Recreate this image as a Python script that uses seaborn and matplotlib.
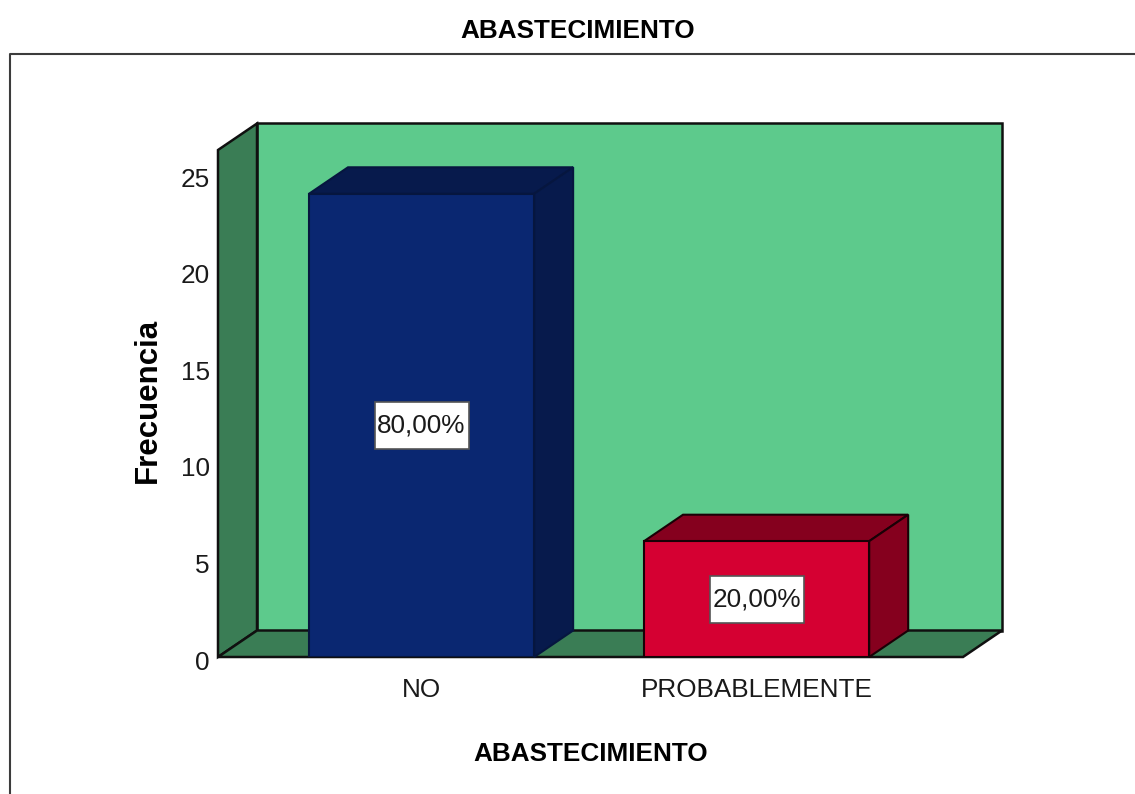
import matplotlib
matplotlib.use("Agg")
import matplotlib.pyplot as plt
import pandas as pd
import seaborn as sns
from matplotlib.lines import Line2D
from matplotlib.patches import Polygon, Rectangle
from matplotlib.transforms import ScaledTranslation

categories = ["NO", "PROBABLEMENTE"]
frecuencia = [24, 6]
porcentajes = ["80,00%", "20,00%"]
y_ticks = [0, 5, 10, 15, 20, 25]

front_colors = ["#0a2771", "#d50032"]
dark_colors = ["#071a4c", "#85001e"]
edge_colors = ["#06163f", "#1a0006"]
wall_color = "#5dca8c"
floor_color = "#3a7d55"

W, H = 1135, 794
font = "Liberation Sans"
size = 18.8
sns.set_theme(style="white")

fig = plt.figure(figsize=(W / 100, H / 100), dpi=100, facecolor="white")
# axes box = front face of the chart, in pixels of the reference
ax = fig.add_axes([218 / W, 1 - 657 / H, (963 - 218) / W, (657 - 150) / H])
ax.patch.set_visible(False)

df = pd.DataFrame({"cat": categories, "n": frecuencia})
sns.barplot(data=df, x="cat", y="n", hue="cat", palette=front_colors, saturation=1,
            width=0.672, legend=False, ax=ax, zorder=3)
ax.set_xlim(-0.6075, 1.616)
ax.set_ylim(0, 507 / 19.3)

# depth of the fake 3d, converted to data units
dx = 39 / 335
dy = 26.5 / 19.3
x0, x1 = ax.get_xlim()
y0, y1 = ax.get_ylim()


def face(pts, fc, ec="#101010", lw=1.8, z=1):
    ax.add_patch(Polygon(pts, closed=True, facecolor=fc, edgecolor=ec, linewidth=lw,
                         zorder=z, clip_on=False, joinstyle="miter"))


face([(x0 + dx, y0 + dy), (x1 + dx, y0 + dy), (x1 + dx, y1 + dy), (x0 + dx, y1 + dy)], wall_color)
face([(x0, y0), (x0 + dx, y0 + dy), (x0 + dx, y1 + dy), (x0, y1)], floor_color)
face([(x0, y0), (x1, y0), (x1 + dx, y0 + dy), (x0 + dx, y0 + dy)], floor_color)

box_w = 94 / 335
box_h = 47 / 19.3
bars = list(ax.patches)[:len(categories)]
for bar, dark, edge, pct in zip(bars, dark_colors, edge_colors, porcentajes):
    left = bar.get_x()
    right = left + bar.get_width()
    top = bar.get_height()
    mid = left + bar.get_width() / 2
    bar.set_edgecolor(edge)
    bar.set_linewidth(1.5)
    face([(left, top), (right, top), (right + dx, top + dy), (left + dx, top + dy)], dark, edge, 1.5, 2)
    face([(right, 0), (right + dx, dy), (right + dx, top + dy), (right, top)], dark, edge, 1.5, 2)
    # label box is taller than the text, so draw it apart
    ax.add_patch(Rectangle((mid - box_w / 2, top / 2 - box_h / 2), box_w, box_h, facecolor="white",
                           edgecolor="#555555", linewidth=1.2, zorder=4))
    ax.text(mid, top / 2, pct, ha="center", va="center", family=font, fontsize=size,
            color="#1a1a1a", zorder=5)

ax.set_yticks(y_ticks)
ax.set_xticks(range(len(categories)))
ax.set_xticklabels(categories, family=font, fontsize=size, color="#1a1a1a")
ax.set_yticklabels(y_ticks, family=font, fontsize=size, color="#1a1a1a")
ax.tick_params(axis="x", length=0, pad=15)
ax.tick_params(axis="y", length=0, pad=6)
for lab in ax.get_yticklabels():
    lab.set_transform(lab.get_transform() + ScaledTranslation(0, -3 / 100, fig.dpi_scale_trans))
sns.despine(ax=ax, left=True, bottom=True, top=True, right=True)

ax.set_xlabel("ABASTECIMIENTO", family=font, fontsize=size, fontweight="bold",
              color="black", labelpad=29)
ax.set_ylabel("Frecuencia", family=font, fontsize=22.5, fontweight="bold", color="black")
ax.yaxis.set_label_coords((163 - 218) / (963 - 218), (657 - 400) / 507)

fig.text(578 / W, 1 - 31 / H, "ABASTECIMIENTO", ha="center", va="center", family=font,
         fontsize=size, fontweight="bold", color="black")

# outer chart frame, cut by the screenshot on the right and bottom
fig.add_artist(Line2D([10 / W, 10 / W, 1], [0, 1 - 54 / H, 1 - 54 / H], color="#3c3c3c", lw=1.5))

plt.savefig("out.png", dpi=100)
